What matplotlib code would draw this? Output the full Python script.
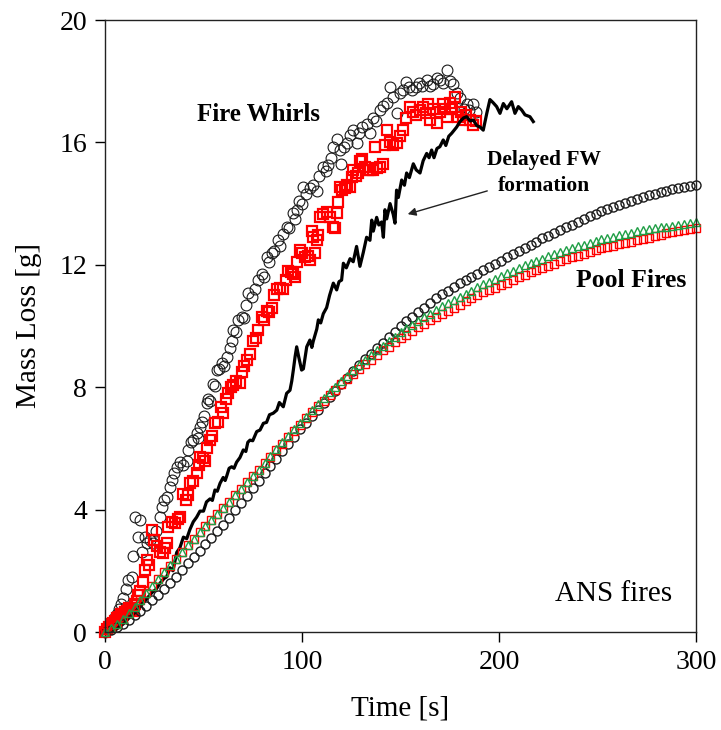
import numpy as np
import matplotlib
matplotlib.use('Agg')
import matplotlib.pyplot as plt

plt.rcParams['font.family'] = ['Liberation Serif', 'DejaVu Serif']

# fire whirl, run 1 (black circles)
fw1_t = [0, 1, 2, 3, 4, 5, 6, 7, 8, 9.3, 10.5, 11.8, 13.5, 14.4, 15.2, 16.9, 17.8, 19, 20.3, 21.5,
         22.8, 24.5, 26, 27.9, 28.8, 30, 31.3, 33, 33.8, 35, 36.4, 38, 39.5, 41.5, 42.3, 43.5, 44.8,
         46.5, 47.2, 48.2, 49, 50.2, 51.6, 52.3, 53.5, 55, 55.8, 56.7, 58, 59.2, 60.5, 61.8, 63.5,
         64.3, 65.1, 66.5, 67.7, 69.4, 70.5, 71.5, 72.8, 74.5, 76.1, 77.5, 79.5, 80.7, 82, 83.2,
         84.6, 86, 88, 89, 90.5, 92.2, 93.5, 95.6, 96.5, 97.3, 98.5, 99.8, 100.7, 102, 104, 105.5,
         107.5, 108.5, 110.8, 112, 113.4, 114.5, 115.9, 117.6, 119.3, 120, 121.5, 122.7, 124.4, 126,
         127.7, 129, 130.5, 132.8, 134.5, 136, 137.5, 139.6, 141, 143, 144.7, 146, 148, 149.7, 151.5,
         153, 154.5, 156, 158, 159.5, 161, 163.3, 165, 166.7, 168.5, 170, 171.5, 173.5, 175, 176.8,
         178.5, 180.2, 182, 183.6, 185, 187, 188.5]
fw1_m = [0.0, 0.1, 0.2, 0.3, 0.35, 0.5, 0.6, 0.75, 0.9, 1.1, 1.4, 1.7, 1.8, 2.5, 3.77, 3.1, 3.66, 2.6, 3.1, 2.9,
         3.0, 2.9, 3.3, 3.77, 4.1, 4.3, 4.4, 4.75, 4.97, 5.2, 5.4, 5.57, 5.45, 5.6, 5.95, 6.2, 6.27,
         6.5, 6.35, 6.7, 6.87, 7.05, 7.5, 7.6, 7.55, 8.1, 8.05, 8.55, 8.6, 8.8, 8.7, 9.0, 9.27,
         9.5, 9.87, 9.8, 10.2, 10.3, 10.25, 10.7, 11.07, 10.95, 11.2, 11.5, 11.7, 11.6, 12.26, 12.1,
         12.37, 12.45, 12.8, 12.6, 13.0, 13.25, 13.2, 13.7, 13.5, 13.8, 14.1, 14.0, 14.55, 14.3, 14.5, 14.6,
         14.4, 14.9, 15.2, 15.05, 15.26, 15.5, 15.86, 16.1, 15.75, 15.3, 15.85, 15.97, 16.24, 16.4,
         15.97, 16.3, 16.5, 16.6, 16.3, 16.8, 16.7, 17.06, 17.2, 17.3, 17.8, 17.5, 16.95, 17.6, 17.7,
         17.99, 17.8, 17.7, 17.8, 17.95, 17.85, 18.04, 17.85, 17.9, 18.1, 18.04, 17.95, 18.37, 18.0, 17.9,
         17.6, 17.44, 17.1, 17.27, 17.05, 17.27, 17.0]

# fire whirl, run 2 (red squares)
fw2_t = [0, 1, 2, 3, 4, 5, 6, 7, 8, 9, 10, 11, 12, 13, 14, 15, 16, 17, 18, 19.5, 20.3, 21.2, 22.5,
         23.7, 25, 26.5, 27.9, 29.6, 30.5, 31.3, 32.2, 33.8, 35.5, 37, 38, 39.8, 41, 42.3, 43.1, 44.8,
         46.5, 47.5, 48.2, 49.5, 50.8, 52, 53.3, 54.5, 55.8, 57.5, 59, 60, 61.2, 62.6, 63.8, 65.1,
         66.5, 68.5, 69.4, 70.5, 71.9, 73.6, 75.3, 76.5, 77.8, 79.5, 80.7, 82, 83.3, 84.6, 86, 87.2,
         88.8, 90.5, 91.7, 93, 94.3, 95.6, 96.4, 97.7, 99, 100.2, 101.5, 102.8, 104, 104.9, 105.7,
         106.6, 107.5, 108.3, 109, 110.8, 112.5, 114.2, 115.9, 116.8, 117.6, 118.4, 119.3, 120.5,
         121.8, 123, 124.4, 125.2, 126, 127.3, 128.6, 129.4, 130.3, 132, 133.3, 134.5, 136.2, 137,
         137.9, 139.5, 141.3, 142, 143, 144.5, 146, 148, 149.7, 151.4, 153, 154.8, 156.5, 158, 159.9,
         161.5, 163, 164.1, 165, 166.7, 168.4, 170, 171.7, 172.5, 173.4, 175, 176.2, 177.7, 179.3,
         180.5, 181.9, 183.5, 185.3, 187, 188.5]
fw2_m = [0.0, 0.1, 0.15, 0.25, 0.3, 0.35, 0.45, 0.5, 0.6, 0.6, 0.65, 0.7, 0.8, 0.75, 0.7, 0.9, 1.0, 1.2, 1.35, 1.65, 2.03, 2.35, 2.2,
         3.33, 3.0, 2.8, 2.6, 2.57, 2.75, 2.9, 3.44, 3.6, 3.55, 3.7, 3.77, 4.5, 4.3, 4.48, 4.86, 4.95,
         5.19, 5.45, 5.73, 5.7, 5.6, 6.0, 6.27, 6.4, 6.82, 6.85, 7.36, 7.15, 7.6, 7.8, 8.0, 8.07,
         8.2, 8.13, 8.5, 8.7, 8.9, 9.1, 9.5, 9.6, 9.87, 10.3, 10.2, 10.5, 10.45, 10.6, 11.0, 11.2,
         11.25, 11.2, 11.5, 11.8, 11.75, 11.7, 11.6, 12.1, 12.5, 12.4, 12.26, 12.3, 12.16, 13.1, 12.9,
         12.4, 12.8, 12.97, 13.57, 13.65, 13.74, 13.57, 13.24, 13.2, 13.7, 14.06, 14.55, 14.45,
         14.5, 14.6, 14.55, 14.88, 15.1, 14.9, 15.0, 15.4, 15.45, 15.2, 15.1, 15.1, 15.1, 15.86,
         15.15, 15.2, 15.3, 15.9, 16.4, 16.0, 15.9, 15.97, 16.2, 16.4, 16.8, 17.17, 17.0, 16.9, 17.06,
         17.15, 16.95, 17.27, 16.73, 17.1, 16.62, 17.0, 17.27, 17.1, 16.84, 17.3, 17.1, 17.5, 16.84,
         17.0, 16.73, 16.9, 16.73, 16.57, 16.7]

# fire whirl with delayed formation (black line)
fw3_t = [4, 6, 8, 10, 12, 14, 16, 18, 20, 22, 24, 26, 28, 30, 31.3, 33, 34.5, 36.4, 38, 39.8, 41.5,
         43.1, 44.8, 46.5, 48.2, 50, 51.5, 53.3, 54.5, 55.8, 57, 58.4, 60, 61, 61.8, 63, 64.3, 65.5,
         66.8, 68.5, 70.2, 71.5, 72.5, 73.6, 75, 77, 78.7, 80.4, 82, 83.5, 85.4, 87.2, 88.5, 90.5,
         92.2, 93.9, 94.8, 95.6, 96.5, 97.3, 98.3, 99.8, 100.7, 102.4, 104, 105, 105.7, 107.5, 108.3,
         109.5, 110.8, 112.5, 114, 115.9, 117.6, 118.8, 120.1, 121, 122.5, 124.4, 126, 127.7, 129.4,
         131.1, 132.8, 134.5, 135.4, 136.2, 137.9, 139, 140.4, 141.3, 142.1, 143, 144.7, 146.3, 147.2,
         148, 148.9, 150.6, 152, 153.1, 154.5, 156.5, 158, 159.9, 161.5, 163.3, 164.5, 165.8, 167,
         168.5, 170, 171.7, 173, 174.5, 176, 178.5, 180.2, 182, 183.6, 185.3, 187, 188.7, 190.4, 192,
         193.8, 195.4, 197, 198.8, 200.5, 202.2, 204, 206.4, 208.1, 209.8, 211.5, 213.2, 215.7, 217.4]
fw3_m = [0.0, 0.1, 0.2, 0.3, 0.45, 0.55, 0.7, 0.85, 1.0, 1.15, 1.3, 1.4, 1.6, 1.75, 1.8, 2.1, 2.0, 2.6, 2.75, 3.1, 3.05,
         3.35, 3.6, 3.75, 3.95, 3.95, 4.25, 4.35, 4.3, 4.64, 4.6, 4.86, 5.05, 4.95, 5.1, 5.35, 5.4, 5.35,
         5.55, 5.7, 5.95, 5.9, 6.2, 6.27, 6.25, 6.55, 6.6, 6.82, 6.85, 7.1, 7.15, 7.25, 7.5, 7.36,
         7.8, 7.9, 8.2, 8.56, 9.0, 9.32, 9.0, 8.56, 8.6, 9.32, 9.54, 9.3, 9.5, 9.9, 10.2,
         10.1, 10.4, 10.6, 11.0, 11.4, 11.18, 11.45, 11.5, 12.05, 11.9, 12.2, 12.1, 12.6, 11.95,
         12.4, 12.9, 12.8, 13.46, 13.1, 13.55, 13.3, 13.4, 12.9, 13.8, 13.5, 14.0, 13.65, 13.36,
         14.44, 14.2, 14.77, 14.6, 15.0, 14.85, 15.3, 15.1, 15.0, 15.4, 15.64, 15.5, 15.75, 15.5,
         15.8, 15.86, 16.08, 15.9, 16.2, 16.3, 16.5, 16.68, 16.8, 16.84, 16.7, 16.73, 16.55, 16.5, 16.4,
         16.95, 17.4, 17.3, 17.17, 16.95, 17.27, 17.1, 17.33, 16.95, 17.17, 17.06, 16.9, 16.84, 16.68]

# pool fires, sampled every 3 s
pool_t = np.arange(0, 301, 3)
pool1_m = [0.00, 0.08, 0.17, 0.27, 0.40, 0.55, 0.70, 0.86, 1.03, 1.21, 1.40, 1.60, 1.81, 2.03, 2.24,
           2.45, 2.66, 2.87, 3.08, 3.29, 3.50, 3.74, 3.98, 4.22, 4.46, 4.70, 4.94, 5.18, 5.42, 5.66,
           5.90, 6.14, 6.38, 6.62, 6.84, 7.05, 7.26, 7.47, 7.68, 7.89, 8.10, 8.31, 8.52, 8.73, 8.92,
           9.10, 9.28, 9.46, 9.64, 9.82, 10.00, 10.15, 10.30, 10.45, 10.60, 10.75, 10.90, 11.04, 11.16,
           11.28, 11.40, 11.50, 11.61, 11.71, 11.82, 11.92, 12.03, 12.13, 12.24, 12.34, 12.45, 12.55,
           12.66, 12.76, 12.86, 12.95, 13.04, 13.13, 13.22, 13.31, 13.40, 13.49, 13.58, 13.67, 13.75,
           13.82, 13.90, 13.97, 14.03, 14.09, 14.15, 14.21, 14.27, 14.33, 14.38, 14.42, 14.47, 14.51,
           14.54, 14.57, 14.60]
pool2_m = [0.00, 0.12, 0.27, 0.44, 0.63, 0.84, 1.06, 1.28, 1.50, 1.73, 1.95, 2.17, 2.40, 2.62, 2.84,
           3.05, 3.26, 3.46, 3.66, 3.85, 4.05, 4.26, 4.47, 4.68, 4.89, 5.10, 5.31, 5.52, 5.73, 5.94,
           6.15, 6.36, 6.57, 6.78, 6.98, 7.18, 7.37, 7.56, 7.74, 7.92, 8.10, 8.26, 8.43, 8.60, 8.75,
           8.90, 9.05, 9.20, 9.33, 9.47, 9.60, 9.72, 9.84, 9.96, 10.07, 10.18, 10.28, 10.39, 10.49,
           10.60, 10.70, 10.81, 10.91, 11.02, 11.10, 11.17, 11.25, 11.33, 11.42, 11.51, 11.60, 11.67,
           11.75, 11.82, 11.90, 11.97, 12.04, 12.12, 12.18, 12.24, 12.30, 12.36, 12.42, 12.48, 12.54,
           12.58, 12.63, 12.67, 12.72, 12.76, 12.80, 12.85, 12.89, 12.94, 12.98, 13.03, 13.07, 13.11,
           13.14, 13.17, 13.20]
pool3_m = [0.00, 0.12, 0.26, 0.42, 0.62, 0.83, 1.05, 1.27, 1.50, 1.72, 1.95, 2.18, 2.40, 2.63, 2.84,
           3.05, 3.26, 3.47, 3.66, 3.86, 4.05, 4.26, 4.47, 4.68, 4.89, 5.10, 5.31, 5.53, 5.75, 5.98,
           6.20, 6.41, 6.62, 6.83, 7.04, 7.25, 7.46, 7.66, 7.84, 8.02, 8.20, 8.38, 8.56, 8.74, 8.90,
           9.05, 9.20, 9.35, 9.50, 9.65, 9.80, 9.92, 10.04, 10.16, 10.28, 10.40, 10.52, 10.64, 10.74,
           10.85, 10.95, 11.06, 11.16, 11.27, 11.36, 11.45, 11.54, 11.63, 11.72, 11.81, 11.90, 11.98,
           12.05, 12.13, 12.20, 12.28, 12.35, 12.42, 12.48, 12.54, 12.60, 12.66, 12.72, 12.78, 12.83,
           12.87, 12.92, 12.96, 13.01, 13.05, 13.10, 13.13, 13.16, 13.19, 13.22, 13.25, 13.28, 13.31,
           13.34, 13.37, 13.40]

green = '#1f9e45'

fig = plt.figure(figsize=(7.21, 7.30), dpi=100)
ax = fig.add_axes([105 / 721, 1 - 632 / 730, 591 / 721, 612 / 730])

ax.plot(fw1_t, fw1_m, 'o', mfc='none', mec='#1a1a1a', ms=7.8, mew=0.8, clip_on=False)
ax.plot(fw2_t, fw2_m, 's', mfc='none', mec='red', ms=7, mew=1.6, clip_on=False)
ax.plot(fw3_t, fw3_m, '-', color='black', lw=2.3)
ax.plot(pool_t, pool1_m, 'o', mfc='none', mec='#1a1a1a', ms=6.5, mew=1.0, clip_on=False)
ax.plot(pool_t, pool2_m, 's', mfc='none', mec='red', ms=6, mew=1.0, clip_on=False)
ax.plot(pool_t, pool3_m, '^', mfc='none', mec=green, ms=6, mew=1.0, clip_on=False)

ax.set_xlim(0, 300)
ax.set_ylim(0, 20)
ax.set_xticks([0, 100, 200, 300])
ax.set_yticks([0, 4, 8, 12, 16, 20])
ax.tick_params(direction='out', length=7, width=1, labelsize=20, pad=6,
               top=False, right=False)
for s in ax.spines.values():
    s.set_linewidth(1.0)
    s.set_color('#222222')

ax.set_xlabel('Time [s]', fontsize=21)
ax.set_ylabel('Mass Loss [g]', fontsize=21)
ax.xaxis.set_label_coords(0.5, -0.103)
ax.yaxis.set_label_coords(-0.107, 0.5)

ax.text(77.7, 16.9, 'Fire Whirls', fontsize=18, fontweight='bold', ha='center', va='center')
ax.text(223, 15.0, 'Delayed FW\nformation', fontsize=15.5, fontweight='bold',
        ha='center', va='center', linespacing=1.45)
ax.text(267, 11.5, 'Pool Fires', fontsize=18.5, fontweight='bold', ha='center', va='center')
ax.text(258, 1.24, 'ANS fires', fontsize=21, ha='center', va='center')
ax.annotate('', xy=(152.3, 13.63), xytext=(195.4, 14.44),
            arrowprops=dict(arrowstyle='-|>', color='#222222', lw=1.0, mutation_scale=12))

fig.savefig('out.png', dpi=100)
